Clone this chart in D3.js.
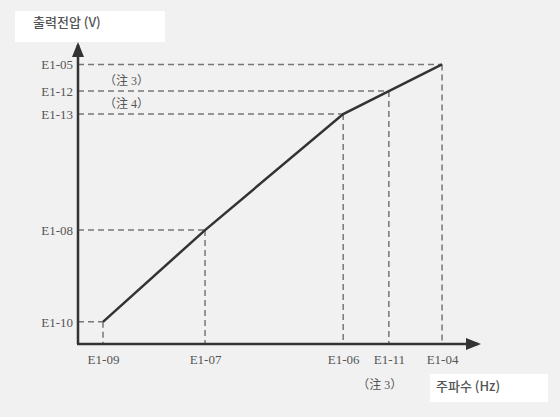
<!DOCTYPE html>
<html><head><meta charset="utf-8">
<script src="https://cdn.jsdelivr.net/npm/d3@7"></script>
<style>
html,body{margin:0;padding:0;background:#f1f1f1;}
svg{display:block;}
</style></head>
<body>
<svg id="c" width="560" height="417"></svg>
<script>
// Data (relative positions, 0-100 scale)
const freqLabels = ["E1-09", "E1-07", "E1-06", "E1-11", "E1-04"];
const freqValues = [6.3, 32, 66.8, 78.3, 91.7];
const voltLabels = ["E1-10", "E1-08", "E1-13", "E1-12", "E1-05"];
const voltValues = [7.4, 38.1, 76.9, 84.6, 93.5];
const xNotes = ["", "", "", "（注 3）", ""];
const yNotes = ["", "", "（注 4）", "（注 3）", ""];

const svg = d3.select("#c");
const x0 = 78, y0 = 344;
const x = d3.scaleLinear().domain([0, 100]).range([x0, 475]);
const y = d3.scaleLinear().domain([0, 100]).range([y0, 45]);

svg.append("rect").attr("width", 560).attr("height", 417).attr("fill", "#f1f1f1");

// title boxes
svg.append("rect").attr("x", 15).attr("y", 11).attr("width", 150).attr("height", 31).attr("fill", "#fff");
svg.append("rect").attr("x", 430).attr("y", 374).attr("width", 118).attr("height", 28).attr("fill", "#fff");

const pts = freqValues.map((f, i) => [f, voltValues[i]]);

// dashed guides
const g = svg.append("g").attr("stroke", "#777").attr("stroke-width", 1.5).attr("stroke-dasharray", "6,4").attr("fill", "none");
pts.forEach(p => {
  g.append("line").attr("x1", x(0)).attr("x2", x(p[0])).attr("y1", y(p[1])).attr("y2", y(p[1]));
  g.append("line").attr("x1", x(p[0])).attr("x2", x(p[0])).attr("y1", y(p[1])).attr("y2", y(0));
});

// axes lines with arrows
const defs = svg.append("defs");
defs.append("marker").attr("id", "arr").attr("viewBox", "0 0 10 10").attr("refX", 8).attr("refY", 5)
  .attr("markerWidth", 6).attr("markerHeight", 6).attr("orient", "auto-start-reverse")
  .append("path").attr("d", "M0,1 L10,5 L0,9 Z").attr("fill", "#333");
svg.append("line").attr("x1", x0).attr("y1", y0).attr("x2", x0).attr("y2", 45)
  .attr("stroke", "#333").attr("stroke-width", 2.5).attr("marker-end", "url(#arr)");
svg.append("line").attr("x1", x0 - 1).attr("y1", y0).attr("x2", 478).attr("y2", y0)
  .attr("stroke", "#333").attr("stroke-width", 2.5).attr("marker-end", "url(#arr)");

const serif = "'Liberation Serif', serif";
// axes labels via d3 axes
const yAxis = d3.axisLeft(y).tickValues(voltValues).tickSize(0).tickPadding(5)
  .tickFormat((d, i) => voltLabels[i]);
const ya = svg.append("g").attr("transform", `translate(${x0},0)`).call(yAxis);
ya.select(".domain").remove();
ya.selectAll("text").attr("font-family", serif).attr("font-size", 13).attr("fill", "#555");

const xAxis = d3.axisBottom(x).tickValues(freqValues).tickSize(0).tickPadding(11)
  .tickFormat((d, i) => freqLabels[i]);
const xa = svg.append("g").attr("transform", `translate(0,${y0})`).call(xAxis);
xa.select(".domain").remove();
xa.selectAll("text").attr("font-family", serif).attr("font-size", 13).attr("fill", "#555");

// notes
const noteFont = "'Liberation Serif', 'Noto Sans CJK JP', serif";
yNotes.forEach((n, i) => {
  if (!n) return;
  svg.append("text").attr("x", 104).attr("y", y(voltValues[i]) - 6).text(n)
    .attr("font-family", noteFont).attr("font-size", 12).attr("fill", "#555");
});
xNotes.forEach((n, i) => {
  if (!n) return;
  svg.append("text").attr("x", x(freqValues[i]) - 9).attr("y", 389).attr("text-anchor", "middle").text(n)
    .attr("font-family", noteFont).attr("font-size", 12).attr("fill", "#555");
});

// main line
svg.append("path").datum(pts)
  .attr("d", d3.line().x(d => x(d[0])).y(d => y(d[1])))
  .attr("fill", "none").attr("stroke", "#333").attr("stroke-width", 2.5);

// axis titles
svg.append("text").attr("x", 33).attr("y", 27).text("출력전압 (V)")
  .attr("font-family", "'Noto Sans CJK KR', sans-serif").attr("font-size", 13).attr("font-weight", 500).attr("fill", "#555");
svg.append("text").attr("x", 436).attr("y", 391).text("주파수 (Hz)")
  .attr("font-family", "'Noto Sans CJK KR', sans-serif").attr("font-size", 13).attr("font-weight", 500).attr("fill", "#555");
</script>
</body></html>
